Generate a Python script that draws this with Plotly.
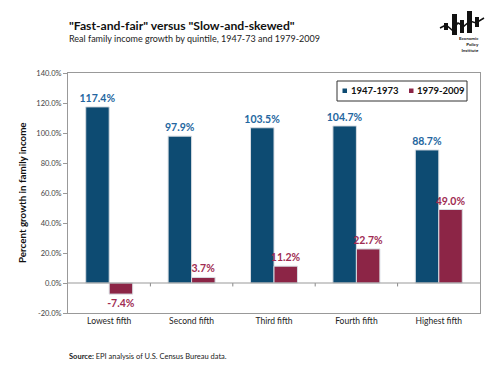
import plotly.graph_objects as go

categories = ["Lowest fifth", "Second fifth", "Third fifth", "Fourth fifth", "Highest fifth"]
series_names = ["1947-1973", "1979-2009"]
growth_1947_1973 = [117.4, 97.9, 103.5, 104.7, 88.7]
growth_1979_2009 = [-7.4, 3.7, 11.2, 22.7, 49.0]
y_ticks = [-20, 0, 20, 40, 60, 80, 100, 120, 140]

BLUE = "#0d4b72"
RED = "#8c2546"
BLUE_TXT = "#2366a0"
RED_TXT = "#a02c52"
FONT = "Lato"

W, H = 500, 378
OFF = 8  # page body margin offset
PL, PR, PT, PB = 68, 480, 73, 313
L, T = PL - OFF, PT - OFF
PW, PH = PR - PL, PB - PT
R = W - L - PW
B = H - T - PH

def px(x):
    return (x - PL) / PW

def py(y):
    return (PB - y) / PH

fig = go.Figure()
for name, vals, col, tcol in [(series_names[0], growth_1947_1973, BLUE, BLUE_TXT),
                              (series_names[1], growth_1979_2009, RED, RED_TXT)]:
    fig.add_trace(go.Bar(
        x=categories, y=vals, name=name,
        marker=dict(color=col, line=dict(color="#d8dde3", width=1)),
        text=[f"{v:.1f}%" for v in vals], textposition="outside",
        constraintext="none",
        textfont=dict(family=FONT, size=10.5, color=tcol, weight="bold"),
        cliponaxis=False, showlegend=False,
    ))

shapes = []
for i in range(1, len(categories)):
    shapes.append(dict(type="line", xref="x", yref="y", x0=i - 0.5, x1=i - 0.5,
                       y0=0, y1=-2.3, line=dict(color="#888", width=1)))
shapes.append(dict(type="line", xref="paper", yref="y", x0=0, x1=1, y0=0, y1=0,
                   line=dict(color="#999", width=1), layer="above"))

def rect(x0, y0, x1, y1, color="#111", line=None):
    shapes.append(dict(type="rect", xref="paper", yref="paper", x0=px(x0), x1=px(x1),
                       y0=py(y1), y1=py(y0), fillcolor=color,
                       line=line if line else dict(width=0)))

# logo
rect(444, 23, 448, 30)
rect(452, 14, 457, 35)
rect(460, 20, 464, 33)
rect(467, 11, 472, 33)
rect(475, 17, 479, 27)
pts = [(440, 28), (446, 25), (452, 30), (458, 23), (464, 26), (470, 21), (476, 23), (484, 18)]
path = "M " + " L ".join(f"{px(a)},{py(b)}" for a, b in pts)
shapes.append(dict(type="path", xref="paper", yref="paper", path=path,
                   line=dict(color="#111", width=1.5)))

# legend (drawn)
rect(337, 81, 467, 101, color="white", line=dict(color="#333", width=1))
rect(342.5, 88.5, 347, 93, color=BLUE)
rect(409, 88.5, 413.5, 93, color=RED)

annotations = [
    dict(text=series_names[0], x=px(348.5), y=py(91), xanchor="left",
         font=dict(family=FONT, size=9.5, color="#111", weight="bold")),
    dict(text=series_names[1], x=px(415), y=py(91), xanchor="left",
         font=dict(family=FONT, size=9.5, color="#111", weight="bold")),
    dict(text='"Fast-and-fair" versus "Slow-and-skewed"', x=px(67), y=py(25),
         xanchor="left", font=dict(family=FONT, size=12.2, color="#111", weight="bold")),
    dict(text="Real family income growth by quintile, 1947-73 and 1979-2009", x=px(67), y=py(38.5),
         xanchor="left", font=dict(family=FONT, size=9, color="#222")),
    dict(text="Economic<br>Policy<br>Institute", x=px(481), y=py(44),
         xanchor="right", align="right",
         font=dict(family=FONT, size=4.5, color="#111", weight="bold")),
    dict(text="<b>Source:</b> EPI analysis of U.S. Census Bureau data.", x=px(67), y=py(356),
         xanchor="left", font=dict(family=FONT, size=7.5, color="#222")),
    dict(text="Percent growth in family income", x=px(22), y=py(193),
         xanchor="center", textangle=-90,
         font=dict(family=FONT, size=9.8, color="#111", weight="bold")),
]
for a in annotations:
    a.update(xref="paper", yref="paper", yanchor="middle", showarrow=False)

fig.update_layout(
    width=W, height=H, margin=dict(l=L, r=R, t=T, b=B),
    paper_bgcolor="white", plot_bgcolor="white",
    barmode="group", bargap=0.43, bargroupgap=0,
    showlegend=False,
    xaxis=dict(showgrid=False, showline=True, linecolor="#999", mirror=True, ticks="",
               tickfont=dict(family=FONT, size=8.5, color="#222")),
    yaxis=dict(range=[-20, 140], tickvals=y_ticks, ticktext=[f"{v:.1f}%" for v in y_ticks],
               showgrid=False, zeroline=False, showline=True, linecolor="#999", mirror=True,
               ticks="outside", ticklen=4, tickcolor="#999",
               tickfont=dict(family=FONT, size=7.5, color="#444")),
    shapes=shapes, annotations=annotations,
)
fig.write_html("out.html")
